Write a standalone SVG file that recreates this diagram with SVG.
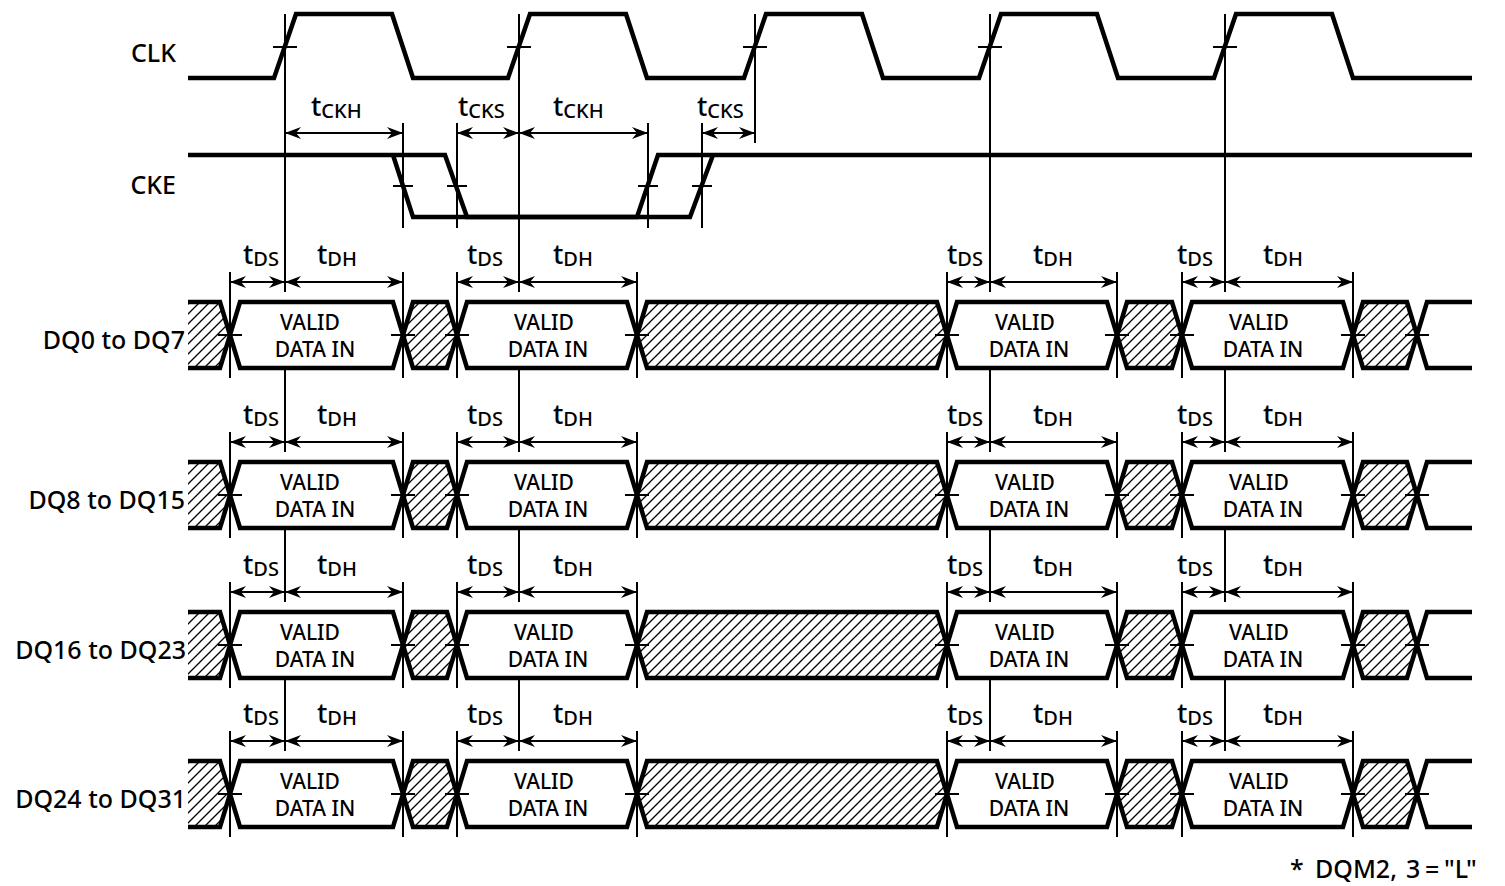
<svg xmlns="http://www.w3.org/2000/svg" xmlns:xlink="http://www.w3.org/1999/xlink" width="1505" height="886" viewBox="0 0 1505 886">
<style>
.wave{fill:none;stroke:#000;stroke-width:4.5;stroke-linejoin:miter}
.thin{fill:none;stroke:#000;stroke-width:2}
.arr{fill:none;stroke:#000;stroke-width:2;marker-start:url(#ah);marker-end:url(#ah)}
.lbl{font-family:"Noto Sans","Open Sans","DejaVu Sans",sans-serif;font-size:25px;font-weight:500;fill:#000}
.t{font-family:"Noto Sans","Open Sans","DejaVu Sans",sans-serif;font-size:27px;font-weight:500;fill:#000}
.sub{font-size:20px}
.vd{font-family:"Noto Sans","Open Sans","DejaVu Sans",sans-serif;font-size:21px;font-weight:500;fill:#000;text-anchor:middle}
.hatch{fill:url(#hp);stroke:none}
</style>
<defs>
<pattern id="hp" patternUnits="userSpaceOnUse" width="10" height="10">
<path d="M-1,1 L1,-1 M0,10 L10,0 M9,11 L11,9" stroke="#000" stroke-width="1.3"/>
</pattern>
<marker id="ah" viewBox="0 0 16 12" refX="16" refY="6" markerWidth="16" markerHeight="12" markerUnits="userSpaceOnUse" orient="auto-start-reverse">
<path d="M0,0 L16,6 L0,12 L5,6 z" fill="#000"/>
</marker>
<g id="dqbus">
<path class="hatch" d="M188,0 H220 L230,33 L220,66 H188 Z M403,33 L413,0 H447 L457,33 L447,66 H413 Z M637,33 L647,0 H937 L947,33 L937,66 H647 Z M1117,33 L1127,0 H1172 L1182,33 L1172,66 H1127 Z M1353,33 L1363,0 H1407 L1417,33 L1407,66 H1363 Z"/>
<path class="wave" d="M188,0 H220 L240,66 H393 L413,0 H447 L467,66 H627 L647,0 H937 L957,66 H1107 L1127,0 H1172 L1192,66 H1343 L1363,0 H1407 L1427,66 H1472"/>
<path class="wave" d="M188,66 H220 L240,0 H393 L413,66 H447 L467,0 H627 L647,66 H937 L957,0 H1107 L1127,66 H1172 L1192,0 H1343 L1363,66 H1407 L1427,0 H1472"/>
<path class="thin" d="M218,33 H242 M391,33 H415 M445,33 H469 M625,33 H649 M935,33 H959 M1105,33 H1129 M1170,33 H1194 M1341,33 H1365 M1405,33 H1429"/>
<path class="thin" d="M230,-30 V76 M403,-30 V76 M457,-30 V76 M637,-30 V76 M947,-30 V76 M1117,-30 V76 M1182,-30 V76 M1353,-30 V76"/>
<line class="arr" x1="230" y1="-20" x2="285" y2="-20"/>
<line class="arr" x1="285" y1="-20" x2="403" y2="-20"/>
<line class="arr" x1="457" y1="-20" x2="519" y2="-20"/>
<line class="arr" x1="519" y1="-20" x2="637" y2="-20"/>
<line class="arr" x1="947" y1="-20" x2="990" y2="-20"/>
<line class="arr" x1="990" y1="-20" x2="1117" y2="-20"/>
<line class="arr" x1="1182" y1="-20" x2="1225" y2="-20"/>
<line class="arr" x1="1225" y1="-20" x2="1353" y2="-20"/>
<text class="t" x="243" y="-38">t<tspan class="sub" dy="2">DS</tspan></text>
<text class="t" x="317" y="-38">t<tspan class="sub" dy="2">DH</tspan></text>
<text class="t" x="467" y="-38">t<tspan class="sub" dy="2">DS</tspan></text>
<text class="t" x="553" y="-38">t<tspan class="sub" dy="2">DH</tspan></text>
<text class="t" x="947" y="-38">t<tspan class="sub" dy="2">DS</tspan></text>
<text class="t" x="1033" y="-38">t<tspan class="sub" dy="2">DH</tspan></text>
<text class="t" x="1177" y="-38">t<tspan class="sub" dy="2">DS</tspan></text>
<text class="t" x="1263" y="-38">t<tspan class="sub" dy="2">DH</tspan></text>
<text class="vd" x="310" y="28">VALID</text><text class="vd" x="315" y="55">DATA IN</text>
<text class="vd" x="544" y="28">VALID</text><text class="vd" x="548" y="55">DATA IN</text>
<text class="vd" x="1025" y="28">VALID</text><text class="vd" x="1029" y="55">DATA IN</text>
<text class="vd" x="1259" y="28">VALID</text><text class="vd" x="1263" y="55">DATA IN</text>
</g>
</defs>
<rect width="1505" height="886" fill="#fff"/>

<g id="connectors">
<path class="thin" d="M285,14 V292 M285,368 V452 M285,528 V602 M285,678 V751"/>
<path class="thin" d="M519,14 V292 M519,368 V452 M519,528 V602 M519,678 V751"/>
<path class="thin" d="M755,14 V143"/>
<path class="thin" d="M990,14 V292 M990,368 V452 M990,528 V602 M990,678 V751"/>
<path class="thin" d="M1225,14 V292 M1225,368 V452 M1225,528 V602 M1225,678 V751"/>
<path class="thin" d="M403,123 V228 M457,123 V228 M648,123 V228 M702,123 V228"/>
<line class="arr" x1="285" y1="133" x2="403" y2="133"/>
<line class="arr" x1="457" y1="133" x2="519" y2="133"/>
<line class="arr" x1="519" y1="133" x2="648" y2="133"/>
<line class="arr" x1="702" y1="133" x2="755" y2="133"/>
</g>

<g id="clk">
<text class="lbl" x="176" y="62" text-anchor="end">CLK</text>
<path class="wave" d="M188,78 H274 L296,14 H392 L413,78 H508 L530,14 H626 L647,78 H744 L766,14 H862 L883,78 H979 L1001,14 H1097 L1118,78 H1214 L1236,14 H1332 L1353,78 H1472"/>
<path class="thin" d="M273,47 H297 M507,47 H531 M743,47 H767 M978,47 H1002 M1213,47 H1237"/>
<text class="t" x="311" y="116">t<tspan class="sub" dy="2">CKH</tspan></text>
<text class="t" x="458" y="116">t<tspan class="sub" dy="2">CKS</tspan></text>
<text class="t" x="553" y="116">t<tspan class="sub" dy="2">CKH</tspan></text>
<text class="t" x="697" y="116">t<tspan class="sub" dy="2">CKS</tspan></text>
</g>

<g id="cke">
<text class="lbl" x="176" y="194" text-anchor="end">CKE</text>
<path class="wave" d="M188,155 H445 L467,217 H637 L658,155 H1472"/>
<path class="wave" d="M393,155 L413,217 H690 L713,155"/>
<path class="thin" d="M393,186 H413 M447,186 H467 M638,186 H658 M692,186 H712"/>
</g>

<g id="dq0-7">
<text class="lbl" x="185" y="349" text-anchor="end">DQ0 to DQ7</text>
<use xlink:href="#dqbus" href="#dqbus" y="302"/>
</g>
<g id="dq8-15">
<text class="lbl" x="185" y="509" text-anchor="end">DQ8 to DQ15</text>
<use xlink:href="#dqbus" href="#dqbus" y="462"/>
</g>
<g id="dq16-23">
<text class="lbl" x="186" y="659" text-anchor="end">DQ16 to DQ23</text>
<use xlink:href="#dqbus" href="#dqbus" y="612"/>
</g>
<g id="dq24-31">
<text class="lbl" x="186" y="808" text-anchor="end">DQ24 to DQ31</text>
<use xlink:href="#dqbus" href="#dqbus" y="761"/>
</g>

<g id="note">
<text class="lbl" y="878" font-size="24"><tspan x="1290">*</tspan><tspan x="1315">DQM2,</tspan><tspan x="1406">3</tspan><tspan x="1425">=</tspan><tspan x="1444">"L"</tspan></text>
</g>
</svg>
